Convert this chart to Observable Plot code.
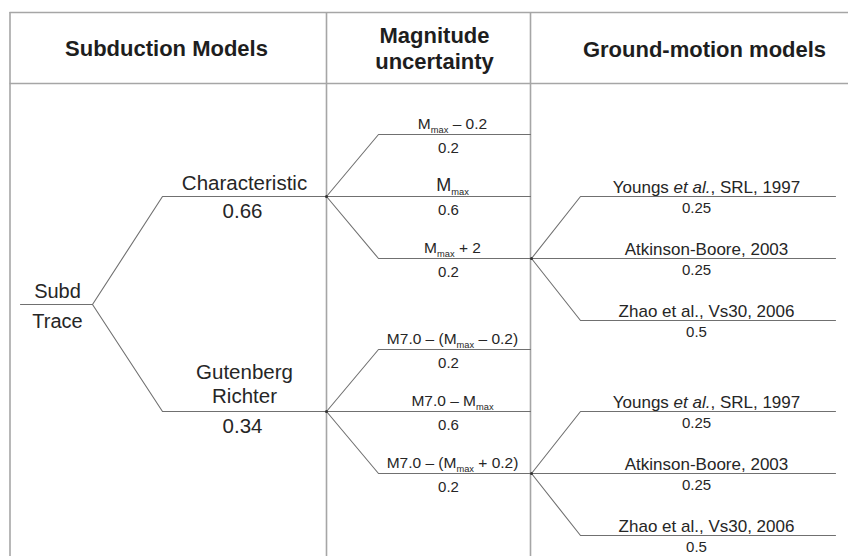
<!DOCTYPE html>
<html>
<head>
<meta charset="utf-8">
<script src="https://cdn.jsdelivr.net/npm/d3@7"></script>
<script src="https://cdn.jsdelivr.net/npm/@observablehq/plot@0.6"></script>
<style>
  html, body { margin: 0; padding: 0; background: #fff; }
  svg { display: block; }
</style>
</head>
<body>
<div id="chart"></div>
<script>
// ---------- data ----------
const headers = ["Subduction Models", "Magnitude\nuncertainty", "Ground-motion models"];
const rootLabel = ["Subd", "Trace"];
const subductionModels = ["Characteristic", "Gutenberg\nRichter"];
const subductionWeights = [0.66, 0.34];
const magnitudeBranches = [
  ["M_{max} – 0.2", "M_{max}", "M_{max} + 2"],
  ["M7.0 – (M_{max} – 0.2)", "M7.0 – M_{max}", "M7.0 – (M_{max} + 0.2)"]
];
const magnitudeWeights = [0.2, 0.6, 0.2];
const groundMotionModels = ["Youngs *et al.*, SRL, 1997", "Atkinson-Boore, 2003", "Zhao et al., Vs30, 2006"];
const groundMotionWeights = [0.25, 0.25, 0.5];

// ---------- layout ----------
const W = 848, H = 556;
const L = {
  table: {left: 9.5, top: 12, headerBottom: 83, cols: [326, 530], right: 848, bottom: 556},
  headerPos: [{x: 166, y: 55}, {x: 434, y: 68}, {x: 704, y: 56}],
  root: {x0: 20, x1: 92, y: 304},
  sub: {xv: 162, x1: 326, ys: [196, 411], nameX: 244, weightX: 242},
  mag: {xv: 378, x1: 530, dy: [-62, 0, 62], nameX: 452, weightX: 448},
  gmm: {x0: 531, xv: 580, x1: 835, dy: [-62, 0, 62], nameX: 706, weightX: 696},
  gmmAttach: 2
};

// build tree geometry from data + layout
const branches = []; // polyline points with z
const labels = [];   // {x, y, text, level, kind}
const nodes = [];
let bid = 0;
function addBranch(x0, y0, xv, yv, x1) {
  const id = bid++;
  branches.push({id, x: x0, y: y0}, {id, x: xv, y: yv}, {id, x: x1, y: yv});
}
// root
branches.push({id: bid, x: L.root.x0, y: L.root.y}, {id: bid, x: L.root.x1, y: L.root.y}); bid++;
subductionModels.forEach((name, i) => {
  const ys = L.sub.ys[i];
  addBranch(L.root.x1, L.root.y, L.sub.xv, ys, L.sub.x1);
  labels.push({level: "sub", kind: "name", x: L.sub.nameX, y: ys - (i === 0 ? 7 : 9), text: name});
  labels.push({level: "sub", kind: "weight", x: L.sub.weightX, y: ys + 21, text: String(subductionWeights[i])});
  nodes.push({x: L.sub.x1, y: ys});
  magnitudeBranches[i].forEach((m, j) => {
    const ym = ys + L.mag.dy[j];
    addBranch(L.sub.x1, ys, L.mag.xv, ym, L.mag.x1);
    labels.push({level: "mag", kind: "name", x: L.mag.nameX, y: ym - 6, text: m, size: m === "M_{max}" ? 18 : 15.5});
    labels.push({level: "mag", kind: "weight", x: L.mag.weightX, y: ym + 18, text: String(magnitudeWeights[j])});
    if (j === L.gmmAttach) {
      nodes.push({x: L.gmm.x0, y: ym});
      groundMotionModels.forEach((g, k) => {
        const yg = ym + L.gmm.dy[k];
        addBranch(L.gmm.x0, ym, L.gmm.xv, yg, L.gmm.x1);
        labels.push({level: "gmm", kind: "name", x: L.gmm.nameX, y: yg - 4, text: g});
        labels.push({level: "gmm", kind: "weight", x: L.gmm.weightX, y: yg + 16, text: String(groundMotionWeights[k])});
      });
    }
  });
});
const rootLabels = [
  {x: 57, y: L.root.y - 7, text: rootLabel[0]},
  {x: 57, y: L.root.y + 23, text: rootLabel[1]}
];
const headerLabels = headers.map((h, i) => ({...L.headerPos[i], text: h}));

const T = L.table;
const hRules = [T.top, T.headerBottom];
const vRules = [T.left, ...T.cols];

const textColor = "#262626";
const chart = Plot.plot({
  width: W, height: H, margin: 0,
  x: {domain: [0, W], range: [0, W], axis: null},
  y: {domain: [0, H], range: [0, H], axis: null},
  style: {fontFamily: "'Liberation Sans', Arial, sans-serif", background: "#fff"},
  marks: [
    Plot.ruleY(hRules, {y: d => d, x1: T.left, x2: T.right, stroke: "#a6a6a6", strokeWidth: 1.6}),
    Plot.ruleX(vRules, {x: d => d, y1: T.top, y2: T.bottom, stroke: "#a6a6a6", strokeWidth: 1.6}),
    Plot.line(branches, {x: "x", y: "y", z: "id", stroke: "#707070", strokeWidth: 1.1}),
    Plot.dot(nodes, {x: "x", y: "y", r: 1.5, fill: "#333", stroke: null}),
    Plot.text(headerLabels, {x: "x", y: "y", text: "text", lineAnchor: "bottom", fontSize: 22, fontWeight: "bold", lineHeight: 1.18, fill: "#1e1e1e"}),
    Plot.text(rootLabels, {x: "x", y: "y", text: "text", lineAnchor: "bottom", fontSize: 20, fill: textColor}),
    Plot.text(labels.filter(d => d.level === "sub"), {x: "x", y: "y", text: "text", lineAnchor: "bottom", fontSize: 20.5, lineHeight: 1.13, fill: textColor}),
    Plot.text(labels.filter(d => d.level === "mag" && d.kind === "name"), {x: "x", y: "y", text: "text", lineAnchor: "bottom", fontSize: d => d.size, fill: textColor}),
    Plot.text(labels.filter(d => d.level === "mag" && d.kind === "weight"), {x: "x", y: "y", text: "text", lineAnchor: "bottom", fontSize: 15, fill: textColor}),
    Plot.text(labels.filter(d => d.level === "gmm" && d.kind === "name"), {x: "x", y: "y", text: "text", lineAnchor: "bottom", fontSize: 17, fill: textColor}),
    Plot.text(labels.filter(d => d.level === "gmm" && d.kind === "weight"), {x: "x", y: "y", text: "text", lineAnchor: "bottom", fontSize: 15, fill: textColor})
  ]
});

// rich text: _{sub} for subscripts, *italic*
d3.select(chart).selectAll("text").each(function() {
  const t = this.textContent;
  if (!/_\{|\*/.test(t)) return;
  const fs = parseFloat(getComputedStyle(this).fontSize) || 15;
  const sel = d3.select(this);
  sel.text(null);
  const parts = t.split(/(_\{[^}]*\}|\*[^*]*\*)/).filter(s => s);
  const shift = fs * 0.28;
  let down = false;
  for (const p of parts) {
    let ts;
    if (p.startsWith("_{")) {
      ts = sel.append("tspan").style("font-size", (fs * 0.62) + "px").attr("dy", shift).text(p.slice(2, -1));
      down = true;
      continue;
    }
    if (p.startsWith("*")) ts = sel.append("tspan").style("font-style", "italic").text(p.slice(1, -1));
    else ts = sel.append("tspan").text(p);
    if (down) { ts.attr("dy", -shift); down = false; }
  }
});

document.getElementById("chart").appendChild(chart);
</script>
</body>
</html>
